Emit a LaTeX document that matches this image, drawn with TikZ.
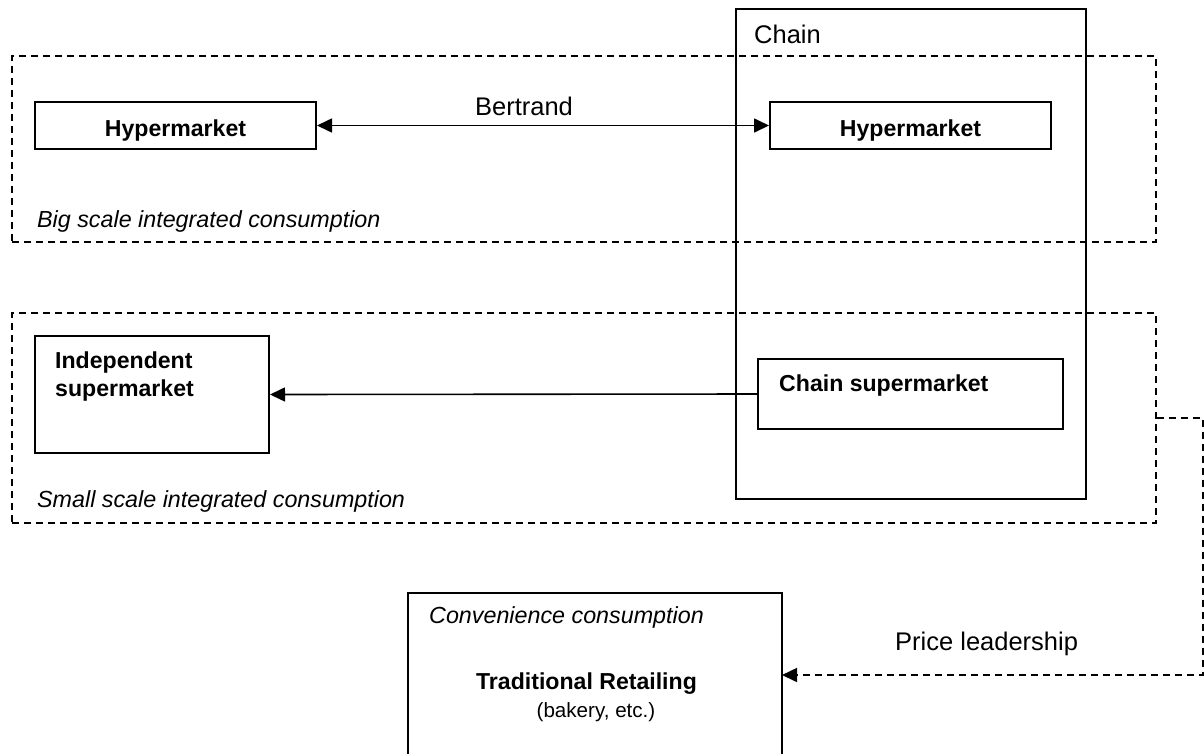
\documentclass[tikz,border=0pt]{standalone}
\usepackage{fontspec}
\setmainfont{Liberation Sans}
\usetikzlibrary{arrows.meta}
\tikzset{
  box/.style={draw, line width=2pt, rectangle, inner sep=0pt},
  zone/.style={draw, line width=1.7pt, dash pattern=on 7pt off 5pt, rectangle, inner sep=0pt},
  reg/.style={font=\fontsize{25.5}{30}\selectfont, inner sep=0pt},
  ital/.style={font=\fontsize{23.3}{28}\selectfont\itshape, inner sep=0pt},
  bld/.style={font=\fontsize{23.1}{28}\selectfont\bfseries, inner sep=0pt},
  small/.style={font=\fontsize{20.6}{25}\selectfont, inner sep=0pt},
  tip/.style={Triangle[length=15pt,width=14pt]},
  conn/.style={line width=1.6pt, -{Triangle[length=15pt,width=14pt]}},
}
\begin{document}
\begin{tikzpicture}[x=1pt,y=-1pt]
\useasboundingbox (0,0) rectangle (1204,753);
\clip (0,0) rectangle (1204,753);
\fill[white] (0,0) rectangle (1204,753);
% containers
\node[box, minimum width=350pt, minimum height=490pt] (chain) at (911,254) {};
\node[zone, minimum width=1144pt, minimum height=186pt] (big) at (584,149) {};
\node[zone, minimum width=1144pt, minimum height=210pt] (small) at (584,418) {};
% boxes
\node[box, fill=white, minimum width=281pt, minimum height=47pt] (hyp1) at (175.5,125.5) {};
\node[box, fill=white, minimum width=281pt, minimum height=47pt] (hyp2) at (910.5,125.5) {};
\node[box, minimum width=234pt, minimum height=117pt] (indep) at (152,394.5) {};
\node[box, minimum width=305pt, minimum height=70pt] (chsup) at (910.5,394) {};
\node[box, minimum width=374pt, minimum height=177pt] (trad) at (595,681.5) {};
% texts
\node[reg, anchor=base west] (tchain) at (754,43) {Chain};
\node[reg, anchor=base] (tbert) at (524,115) {Bertrand};
\node[ital, anchor=base west] (tbig) at (37,227) {Big scale integrated consumption};
\node[ital, anchor=base west] (tsmall) at (37,507) {Small scale integrated consumption};
\node[bld, anchor=base] (thyp1) at (175.5,136) {Hypermarket};
\node[bld, anchor=base] (thyp2) at (910.5,136) {Hypermarket};
\node[bld, anchor=base west] (tchsup) at (779,391) {Chain supermarket};
\node[bld, anchor=base west] (tind1) at (55,368) {Independent};
\node[bld, anchor=base west] (tind2) at (55,396) {supermarket};
\node[ital, anchor=base west] (tconv) at (429,623) {Convenience consumption};
\node[bld, anchor=base] (ttrad) at (586.5,689) {Traditional Retailing};
\node[small, anchor=base] (tbak) at (596,717) {(bakery, etc.)};
\node[reg, anchor=base west] (tprice) at (895,650) {Price leadership};
% connectors
\draw[line width=1.6pt, {Triangle[length=15pt,width=14pt]}-{Triangle[length=15pt,width=14pt]}] (hyp1.east) -- (hyp2.west);
\draw[conn] (chsup.west) -- (indep.east);
\coordinate (tin) at (782,675);
\draw[conn, dash pattern=on 7pt off 5pt] (small.east) -- ++(46,0) |- (tin);
\end{tikzpicture}
\end{document}
